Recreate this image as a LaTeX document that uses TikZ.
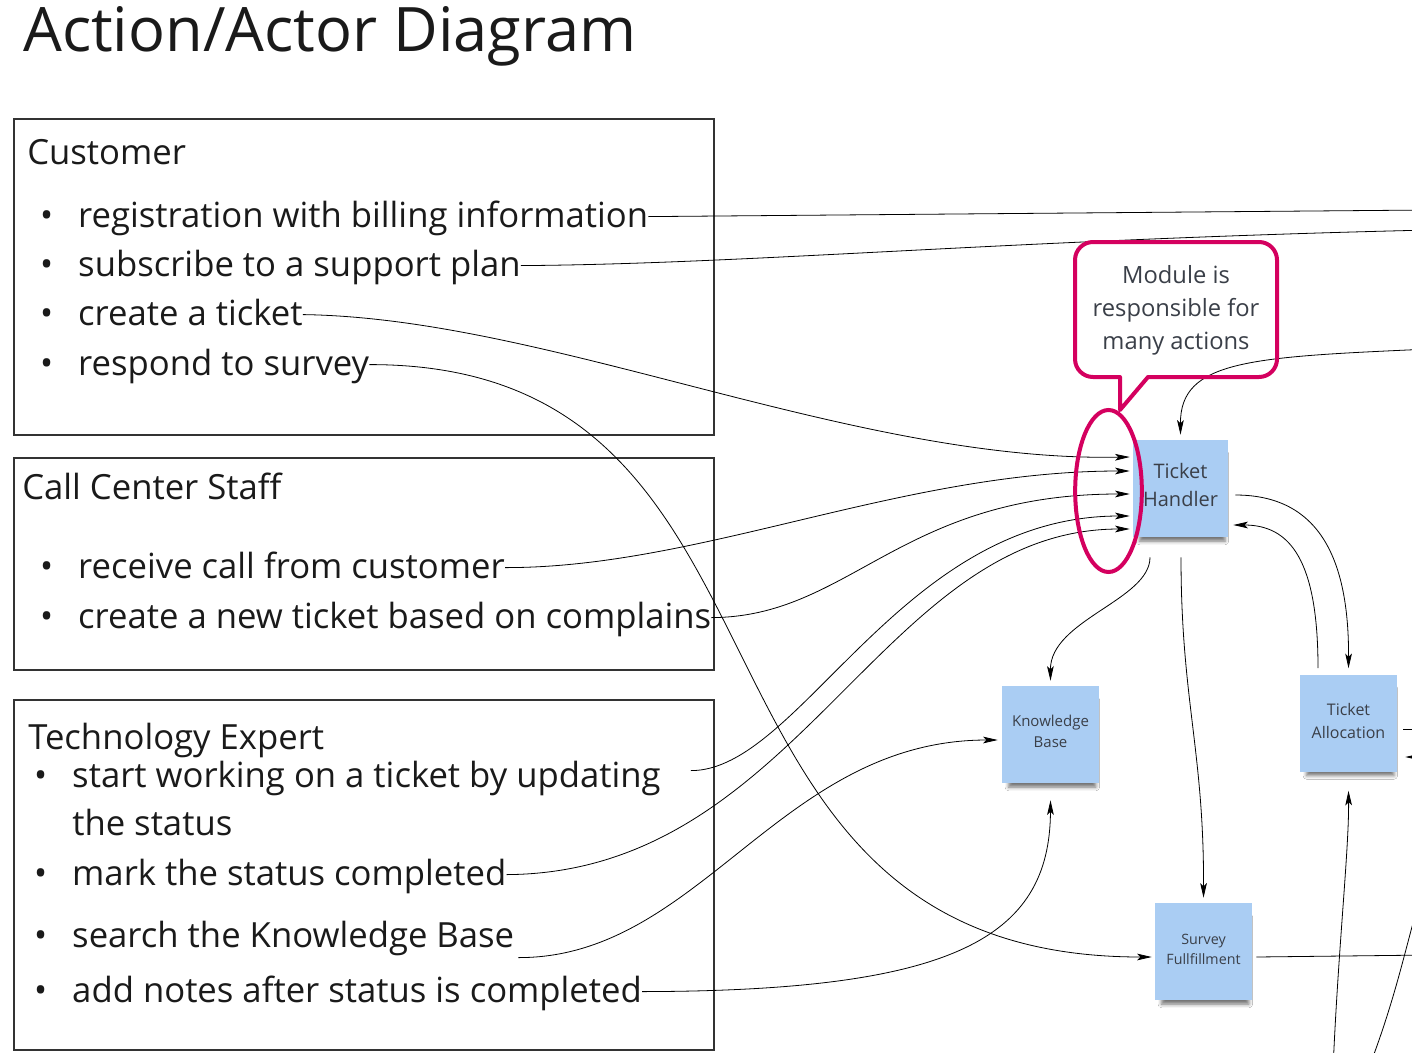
\documentclass[tikz,border=0pt]{standalone}
\usepackage{fontspec}
\setmainfont{Open Sans}
\usetikzlibrary{arrows.meta,calc,shadows.blur}
\definecolor{stickyblue}{HTML}{AACDF3}
\definecolor{stickytext}{HTML}{3A3F48}
\definecolor{mag}{HTML}{D4005F}
\definecolor{boxline}{HTML}{333333}
\definecolor{txt}{HTML}{1A1A1A}
\newcommand\itembullet{\llap{\makebox[28.7pt][l]{•}}}
\begin{document}
\begin{tikzpicture}[x=0.75pt,y=-0.75pt,
  actor/.style={draw=boxline, line width=1.4pt, minimum width=525pt, anchor=north west, inner sep=0pt},
  head/.style={anchor=base west, inner sep=0pt, text=txt, font=\fontsize{26}{30}\selectfont},
  item/.style={anchor=base west, inner sep=0pt, text=txt, font=\fontsize{26}{30}\selectfont, text height=20.8pt, text depth=5.2pt},
  sticky/.style={fill=stickyblue, minimum width=72.75pt, minimum height=72.75pt, inner sep=0pt, align=center, text=stickytext,
    blur shadow={shadow xshift=1.5pt, shadow yshift=-7.5pt, shadow scale=0.9, shadow blur radius=3pt, shadow opacity=55}},
  conn/.style={draw=black, line width=0.6pt},
  arr/.style={conn, -{Stealth[length=11pt,width=5pt,inset=2.5pt]}},
  magline/.style={draw=mag, line width=3pt}
]
\useasboundingbox (0,0) rectangle (1412,1052);
\fill[white] (0,0) rectangle (1412,1052);
\begin{scope}
\clip (0,0) rectangle (1412,1052);

% title
\node[anchor=base west, inner sep=0pt, text=txt, font=\fontsize{46}{50}\selectfont] (title) at (23,52) {Action/Actor Diagram};

% actor boxes
\node[actor, minimum height=237pt] (cust) at (13,118) {};
\node[actor, minimum height=159pt] (call) at (13,457) {};
\node[actor, minimum height=262.5pt] (tech) at (13,699) {};

% Customer
\node[head] (custh) at (27,165) {Customer};
\node[item] (reg) at (78,227) {\itembullet registration with billing information};
\node[item] (sub) at (78,276) {\itembullet subscribe to a support plan};
\node[item] (ct)  at (78,325) {\itembullet create a ticket};
\node[item] (rs)  at (78,375) {\itembullet respond to survey};

% Call Center Staff
\node[head] (callh) at (22,499) {Call Center Staff};
\node[item] (rc) at (78,578) {\itembullet receive call from customer};
\node[item] (cn) at (78,628) {\itembullet create a new ticket based on complains};

% Technology Expert
\node[head] (techh) at (28,749) {Technology Expert};
\node[item] (sw)  at (72,787) {\itembullet start working on a ticket by updating};
\node[item] (sw2) at (72,835) {the status};
\node[item] (ms)  at (72,885) {\itembullet mark the status completed};
\node[item] (sk)  at (72,947) {\itembullet search the Knowledge Base};
\node[item] (an)  at (72,1002) {\itembullet add notes after status is completed};

% sticky notes
\node[sticky, minimum width=71.25pt, font=\fontsize{15}{21}\selectfont] (th) at (1180.5,488.5) {Ticket\\Handler\\[-15pt]\mbox{}};
\node[sticky, font=\fontsize{11.25}{15.75}\selectfont] (kb) at (1050.5,734.5) {Knowledge\\Base\\[-11.25pt]\mbox{}};
\node[sticky, font=\fontsize{12}{17.25}\selectfont] (ta) at (1348.5,723) {Ticket\\Allocation\\[-14.25pt]\mbox{}};
\node[sticky, font=\fontsize{10.7}{14.6}\selectfont] (sf) at (1203.5,951.5) {Survey\\Fullfillment\\[-11.6pt]\mbox{}};

% off-canvas ends
\coordinate (o1) at (1430,210);
\coordinate (o2) at (1430,230);
\coordinate (o3) at (1430,349);
\coordinate (o4) at (1430,729);
\coordinate (o5) at (1430,757);
\coordinate (o6) at (1333,1070);
\coordinate (o7) at (1430,955);
\coordinate (o8) at (1368,1070);
\coordinate (o9) at (1418,905);

% connectors
\draw[conn] (reg.east) -- (o1);
\draw[conn] (sub.east) .. controls (750,264) and (1000,240) .. (o2);
\draw[arr] (ct.east) .. controls (550,318) and (850,462) .. ($(th.west)+(-3,-31.5)$);
\draw[arr] (rs.east) .. controls (830,364) and (650,957) .. ($(sf.west)+(-3,5.5)$);
\draw[arr] (rc.east) .. controls (700,568) and (900,471) .. ($(th.west)+(-3,-17.5)$);
\draw[arr] (cn.east) .. controls (850,617) and (900,494) .. ($(th.west)+(-3,5.5)$);
\draw[arr] ($(sw.east)+(30,-6)$) .. controls (800,771) and (900,516) .. ($(th.west)+(-3,27.5)$);
\draw[arr] (ms.east) .. controls (800,873) and (880,529) .. ($(th.west)+(-3,40.5)$);
\draw[arr] ($(sk.east)+(4,21)$) .. controls (700,958) and (780,740) .. ($(kb.west)+(-4,5.5)$);
\draw[arr] (an.east) .. controls (950,991) and (1050,940) .. ($(kb.south)+(0,17)$);
\draw[arr] (o3) .. controls (1250,357) and (1180,360) .. ($(th.north)+(0,-5)$);
\draw[arr] ($(th.south)+(-30.5,20)$) .. controls (1150,600) and (1050,620) .. ($(kb.north)+(0,-5)$);
\draw[arr] ($(th.south)+(0.5,20)$) .. controls (1181,700) and (1204,750) .. ($(sf.north)+(0,-5)$);
\draw[arr] ($(th.east)+(7,6.5)$) .. controls (1320,495) and (1349,560) .. ($(ta.north)+(0,-6)$);
\draw[arr] ($(ta.north)+(-30.5,-6)$) .. controls (1318,560) and (1290,525) .. ($(th.east)+(5,36.5)$);
\draw[conn] ($(ta.east)+(6,6)$) -- (o4);
\draw[arr] (o5) -- ($(ta.east)+(8,34)$);
\draw[arr] (o6) .. controls (1338,950) and (1349,850) .. ($(ta.south)+(0,19)$);
\draw[conn] ($(sf.east)+(4,5.5)$) -- (o7);
\draw[conn] (o8) .. controls (1395,1000) and (1405,950) .. (o9);

% callout
\node[align=center, text=stickytext, inner sep=0pt, font=\fontsize{17.8}{24.75}\selectfont] (note) at (1176,310) {Module is\\responsible for\\many actions};
\draw[magline, line join=round] (1120,410) -- (1120,377) [rounded corners=13.5pt] -- (1075,377) -- (1075,242) -- (1277,242) -- (1277,377) [sharp corners] -- (1148,377) -- cycle;
\draw[magline] (1108.5,491) ellipse [x radius=25pt, y radius=60.75pt];
\end{scope}
\end{tikzpicture}
\end{document}
